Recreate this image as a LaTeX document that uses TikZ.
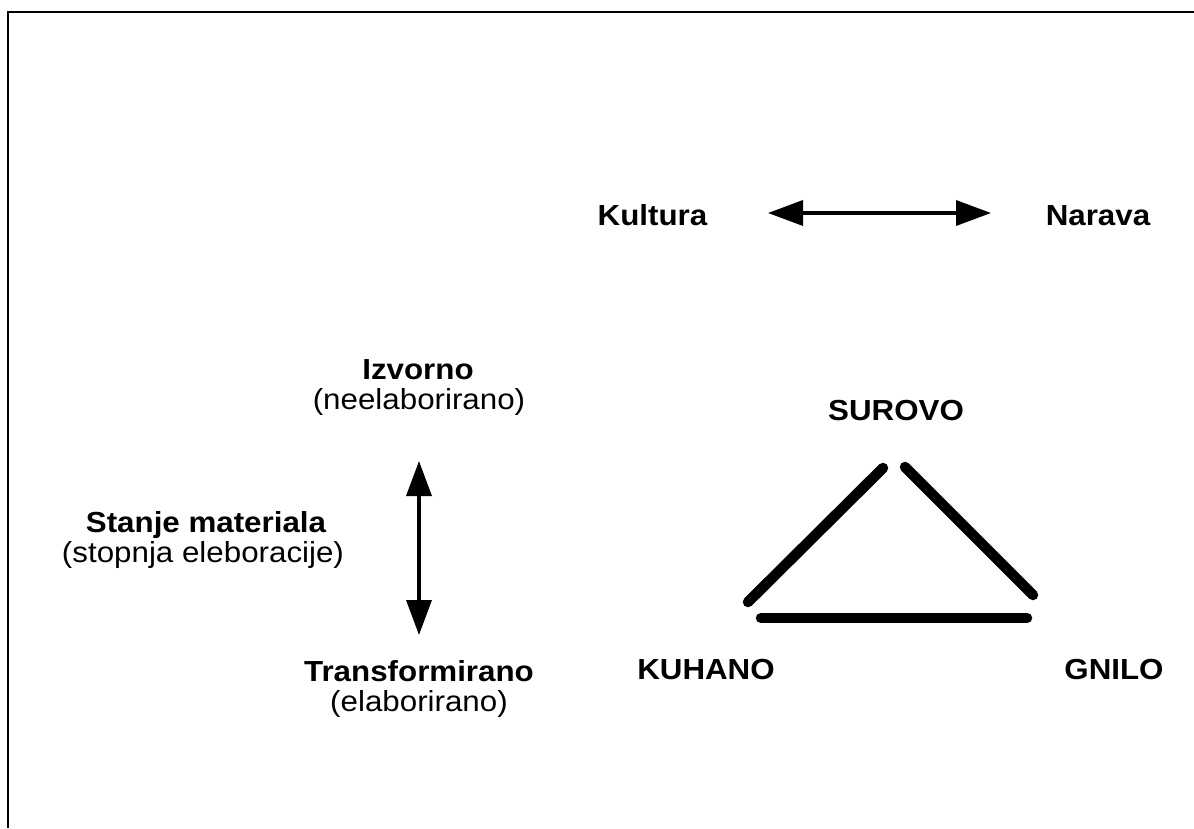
\documentclass[tikz,border=0pt]{standalone}
\usepackage{fontspec}
\usepackage{graphicx}
\setmainfont{Liberation Sans}
\usetikzlibrary{arrows.meta}
\newcommand{\wide}[1]{\scalebox{1.08}[1]{#1}}
\begin{document}
\begin{tikzpicture}[x=1pt,y=-1pt,
  lbl/.style={font=\fontsize{29}{33}\selectfont\bfseries, inner sep=0pt, anchor=base},
  sub/.style={font=\fontsize{29}{33}\selectfont, inner sep=0pt, anchor=base},
  dbl/.style={line width=3.6pt, {Triangle[length=35pt,width=25pt]}-{Triangle[length=35pt,width=25pt]}},
  edge/.style={line width=10.5pt, line cap=round},
  frame/.style={line width=2pt}]
\useasboundingbox (0,0) rectangle (1194,828);
% frame (top and left edges visible)
\coordinate (fTL) at (7.5,12);
\coordinate (fTR) at (1194,12);
\coordinate (fBL) at (7.5,828);
\draw[frame] (fTR) -- (fTL) -- (fBL);
% top labels
\node[lbl] (kultura) at (652.5,225) {\wide{Kultura}};
\node[lbl] (narava) at (1098,225) {\wide{Narava}};
\coordinate (hL) at (768,213);
\coordinate (hR) at (991,213);
\draw[dbl] (hL) -- (hR);
% left labels
\node[lbl] (izvorno) at (418,379) {\wide{Izvorno}};
\node[sub] (neel) at (419,409) {\wide{(neelaborirano)}};
\node[lbl] (stanje) at (206,532) {\wide{Stanje materiala}};
\node[sub] (stopnja) at (203,562) {\wide{(stopnja eleboracije)}};
\node[lbl] (transf) at (419,681) {\wide{Transformirano}};
\node[sub] (elab) at (419,711) {\wide{(elaborirano)}};
\coordinate (vT) at (419,461);
\coordinate (vB) at (419,635);
\draw[dbl] (vT) -- (vB);
% triangle labels
\node[lbl] (surovo) at (896,420) {\wide{SUROVO}};
\node[lbl] (kuhano) at (706,679) {\wide{KUHANO}};
\node[lbl] (gnilo) at (1114,679) {\wide{GNILO}};
\coordinate (l1) at (748,602);
\coordinate (l2) at (883,468);
\coordinate (r1) at (905,467);
\coordinate (r2) at (1033,595);
\coordinate (b1) at (761,618);
\coordinate (b2) at (1027,618);
\draw[edge] (l1) -- (l2);
\draw[edge] (r1) -- (r2);
\draw[edge] (b1) -- (b2);
\end{tikzpicture}
\end{document}
